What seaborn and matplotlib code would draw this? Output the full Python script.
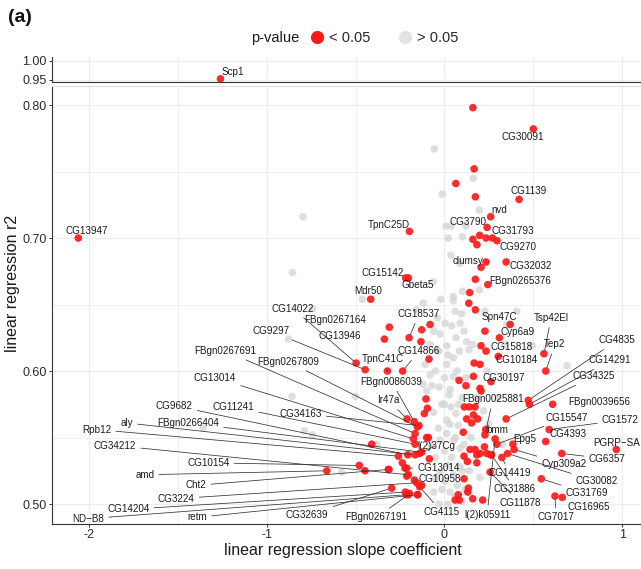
import matplotlib
matplotlib.use("Agg")
import matplotlib.pyplot as plt
import seaborn as sns
import pandas as pd
from matplotlib.lines import Line2D

sns.set_theme(style="white")
plt.rcParams["font.family"] = ["Liberation Sans", "DejaVu Sans"]
plt.rcParams["axes.unicode_minus"] = False

# ---- labelled genes (all p < 0.05) ----
gene_names = [
    "Scp1", "CG13947", "CG30091", "CG1139", "nvd", "CG3790", "CG31793", "CG9270",
    "TpnC25D", "clumsy", "CG32032", "FBgn0265376", "CG15142", "Gbeta5", "Mdr50",
    "FBgn0267164", "CG13946", "CG18537", "CG14866", "TpnC41C", "CG14022", "CG9297",
    "FBgn0086039", "Ir47a", "FBgn0267691", "FBgn0267809", "CG13014", "CG9682",
    "CG11241", "CG34163", "aly", "FBgn0266404", "Rpb12", "CG34212", "CG10154", "amd",
    "Cht2", "CG3224", "CG14204", "ND\u2212B8", "retm", "CG32639", "FBgn0267191",
    "l(2)37Cg", "CG13014", "CG10958", "CG4115", "Spn47C", "Cyp6a9", "CG15818",
    "CG10184", "CG30197", "Tsp42El", "Tep2", "CG4835", "CG14291", "CG34325",
    "FBgn0025881", "FBgn0039656", "bmm", "CG15547", "l(2)k05911", "CG1572", "CG4393",
    "PGRP\u2212SA", "CG6357", "Epg5", "Cyp309a2", "CG30082", "CG14419", "CG31769",
    "CG7017", "CG16965", "CG31886", "CG11878",
]
gene_slope = [
    -1.26, -2.06, 0.50, 0.42, 0.26, 0.24, 0.27, 0.296,
    -0.197, 0.234, 0.347, 0.244, -0.218, -0.203, -0.415,
    -0.31, -0.338, -0.199, -0.235, -0.321, -0.497, -0.446,
    -0.17, -0.21, -0.165, -0.152, -0.175, -0.206,
    -0.165, -0.143, -0.165, -0.128, -0.259, -0.203, -0.479, -0.662,
    -0.316, -0.156, -0.22, -0.214, -0.152, -0.297, -0.203,
    -0.14, -0.212, -0.169, -0.14, 0.37, 0.309, 0.234,
    0.303, 0.20, 0.56, 0.57, 0.472, 0.478, 0.347,
    0.228, 0.609, 0.232, 0.295, 0.285, 0.589, 0.57,
    0.967, 0.66, 0.385, 0.392, 0.355, 0.323, 0.545,
    0.622, 0.663, 0.265, 0.257,
]
gene_r2 = [
    0.953, 0.700, 0.782, 0.729, 0.716, 0.708, 0.700, 0.698,
    0.705, 0.682, 0.682, 0.665, 0.670, 0.670, 0.654,
    0.633, 0.624, 0.625, 0.600, 0.600, 0.606, 0.601,
    0.562, 0.564, 0.553, 0.558, 0.549, 0.537,
    0.545, 0.559, 0.537, 0.539, 0.536, 0.522, 0.529, 0.525,
    0.526, 0.516, 0.509, 0.507, 0.507, 0.512, 0.507,
    0.538, 0.527, 0.518, 0.513, 0.635, 0.625, 0.615,
    0.611, 0.587, 0.613, 0.600, 0.578, 0.575, 0.564,
    0.552, 0.575, 0.556, 0.545, 0.549, 0.556, 0.547,
    0.541, 0.538, 0.545, 0.541, 0.538, 0.535, 0.519,
    0.506, 0.505, 0.537, 0.524,
]

# label placement (data coordinates) and whether a leader segment is drawn
label_x = [
    -1.19, -2.012, 0.438, 0.472, 0.309, 0.131, 0.384, 0.412,
    -0.31, 0.135, 0.486, 0.425, -0.347, -0.153, -0.428,
    -0.616, -0.588, -0.143, -0.143, -0.347, -0.852, -0.978,
    -0.297, -0.316, -1.231, -0.878, -1.291, -1.52,
    -1.188, -0.809, -1.788, -1.441, -1.957, -1.854, -1.329, -1.685,
    -1.398, -1.51, -1.779, -2.004, -1.391, -0.772, -0.381,
    -0.047, -0.034, -0.029, -0.014, 0.307, 0.409, 0.375,
    0.409, 0.335, 0.60, 0.622, 0.971, 0.932, 0.842,
    0.273, 0.87, 0.296, 0.69, 0.24, 0.99, 0.695,
    0.968, 0.915, 0.454, 0.673, 0.858, 0.369, 0.802,
    0.628, 0.814, 0.397, 0.425,
]
label_y = [
    0.971, 0.705, 0.776, 0.735, 0.721, 0.712, 0.705, 0.693,
    0.710, 0.683, 0.679, 0.668, 0.674, 0.665, 0.660,
    0.638, 0.626, 0.643, 0.615, 0.609, 0.647, 0.630,
    0.592, 0.578, 0.615, 0.607, 0.595, 0.574,
    0.573, 0.568, 0.561, 0.561, 0.556, 0.544, 0.531, 0.522,
    0.514, 0.504, 0.496, 0.489, 0.490, 0.492, 0.490,
    0.544, 0.527, 0.519, 0.494, 0.641, 0.629, 0.618,
    0.608, 0.595, 0.640, 0.620, 0.623, 0.608, 0.596,
    0.579, 0.577, 0.556, 0.565, 0.492, 0.563, 0.553,
    0.546, 0.534, 0.549, 0.530, 0.517, 0.523, 0.508,
    0.490, 0.498, 0.511, 0.501,
]
label_leader = [
    0, 0, 0, 0, 0, 0, 0, 0,
    0, 0, 0, 0, 0, 0, 0,
    0, 0, 1, 1, 1, 1, 1,
    1, 1, 1, 1, 1, 1,
    1, 1, 1, 1, 1, 1, 1, 1,
    1, 1, 1, 1, 1, 1, 1,
    1, 1, 1, 1, 0, 0, 0,
    0, 0, 1, 1, 1, 1, 1,
    1, 0, 0, 1, 1, 1, 1,
    0, 1, 0, 1, 1, 1, 1,
    1, 0, 1, 1,
]

# ---- other significant genes (unlabelled) ----
sig_slope = [
    0.16, 0.167, 0.064, 0.174, 0.234, 0.198, 0.16, 0.183, 0.206, 0.174,
    0.142, 0.137, 0.174, -0.128, -0.081, -0.132, -0.087, 0.228, 0.206, 0.167,
    0.20, 0.082, 0.163, 0.121, 0.262, 0.206, -0.104, -0.113, -0.096, -0.10,
    -0.409, -0.447, -0.237, -0.312, -0.222, -0.212, -0.128, -0.197, -0.15, -0.085,
    -0.09, 0.112, 0.14, 0.172, 0.163, 0.187, 0.125, 0.106, 0.225, 0.144,
    0.172, 0.20, 0.182, 0.238, 0.11, 0.129, 0.182, 0.11, 0.135, 0.131,
    0.159, 0.078, 0.084, 0.215, 0.153, 0.06, 0.26,
]
sig_r2 = [
    0.798, 0.752, 0.741, 0.731, 0.700, 0.702, 0.699, 0.695, 0.678, 0.669,
    0.659, 0.651, 0.646, 0.631, 0.635, 0.622, 0.609, 0.630, 0.619, 0.606,
    0.605, 0.593, 0.596, 0.589, 0.592, 0.585, 0.579, 0.568, 0.572, 0.550,
    0.545, 0.525, 0.531, 0.526, 0.527, 0.521, 0.514, 0.508, 0.507, 0.534,
    0.550, 0.573, 0.573, 0.573, 0.567, 0.564, 0.564, 0.554, 0.543, 0.541,
    0.541, 0.538, 0.537, 0.538, 0.536, 0.532, 0.531, 0.519, 0.512, 0.509,
    0.504, 0.507, 0.503, 0.503, 0.561, 0.503, 0.537,
]

# ---- non-significant genes ----
ns_slope = [
    -0.795, -0.855, -0.74, -0.462, -0.876, -0.857, -1.357, -0.788, -0.743, -0.578,
    -0.50, -0.38, -0.057, 0.163, -0.012, 0.197, 0.009, 0.037, 0.121, 0.022,
    0.101, 0.037, 0.088, -0.062, 0.101, 0.197, 0.05, 0.05, -0.021, -0.119,
    0.06, 0.097, 0.228, 0.407, 0.003, 0.041, -0.025, 0.088, 0.065, 0.013,
    0.084, -0.043, 0.013, -0.109, 0.125, 0.138, 0.05, 0.031, -0.029, -0.071,
    0.35, -0.156, 0.026, -0.015, 0.037, 0.065, -0.062, 0.013, 0.078, -0.034,
    0.013, 0.054, -0.025, 0.088, 0.041, 0.022, 0.088, -0.025, 0.05, 0.003,
    0.073, 0.031, -0.015, 0.06, 0.116, -0.06, 0.69, 0.34, 0.495, 0.328,
    -0.05, -0.08, 0.0, -0.04, 0.02, 0.07, -0.10, 0.10, 0.0, -0.05,
    0.06, 0.11, -0.05, 0.02, -0.03, 0.10, 0.10,
    -0.08, 0.03, 0.12, 0.18, 0.22, -0.12, 0.15, 0.20, 0.25, -0.08,
    0.14, 0.0, 0.08, -0.03, 0.05, 0.11, -0.06, 0.16, 0.24, 0.30,
]
ns_r2 = [
    0.716, 0.674, 0.647, 0.654, 0.624, 0.581, 0.557, 0.555, 0.552, 0.524,
    0.581, 0.545, 0.767, 0.745, 0.733, 0.721, 0.709, 0.709, 0.709, 0.700,
    0.701, 0.687, 0.681, 0.667, 0.660, 0.661, 0.656, 0.653, 0.654, 0.651,
    0.645, 0.643, 0.645, 0.645, 0.636, 0.634, 0.628, 0.636, 0.625, 0.619,
    0.615, 0.616, 0.605, 0.605, 0.622, 0.616, 0.596, 0.586, 0.588, 0.589,
    0.635, 0.646, 0.582, 0.575, 0.573, 0.568, 0.569, 0.563, 0.559, 0.557,
    0.553, 0.548, 0.548, 0.542, 0.535, 0.529, 0.528, 0.524, 0.522, 0.517,
    0.514, 0.509, 0.511, 0.506, 0.511, 0.509, 0.604, 0.620, 0.619, 0.545,
    0.600, 0.620, 0.595, 0.640, 0.612, 0.600, 0.585, 0.580, 0.540, 0.535,
    0.550, 0.545, 0.520, 0.500, 0.500, 0.502, 0.525,
    0.597, 0.560, 0.595, 0.580, 0.570, 0.590, 0.550, 0.520, 0.560, 0.545,
    0.525, 0.575, 0.575, 0.615, 0.610, 0.630, 0.630, 0.620, 0.600, 0.580,
]

ns_df = pd.DataFrame({"slope": ns_slope, "r2": ns_r2, "pval": "> 0.05"})
sig_df = pd.DataFrame({"slope": sig_slope + gene_slope,
                       "r2": sig_r2 + gene_r2, "pval": "< 0.05"})

RED = "#FF1A1A"
GREY = "#D4D4D4"
palette = {"< 0.05": RED, "> 0.05": GREY}
AXCOL = "#333333"
GRIDCOL = "#EDEDED"

W, H = 641, 569
fig = plt.figure(figsize=(W / 100, H / 100), dpi=100)
ax = fig.add_axes([52 / W, 1 - 524 / H, 1 - 52 / W, (524 - 86) / H])
ax_top = fig.add_axes([52 / W, 1 - 81.5 / H, 1 - 52 / W, (81.5 - 57) / H])

for a in (ax, ax_top):
    sns.scatterplot(data=ns_df, x="slope", y="r2", hue="pval", palette=palette,
                    s=30, linewidth=0, alpha=0.75, legend=False, ax=a, zorder=3)
    sns.scatterplot(data=sig_df, x="slope", y="r2", hue="pval", palette=palette,
                    s=30, linewidth=0, alpha=0.92, legend=False, ax=a, zorder=4)
    a.set_xlim(-2.208, 1.106)
    a.set_xticks([-2, -1, 0, 1])
    a.set_xticks([-1.5, -0.5, 0.5], minor=True)
    a.grid(True, which="major", color=GRIDCOL, lw=0.9, zorder=0)
    a.grid(True, which="minor", color=GRIDCOL, lw=0.6, zorder=0)
    a.set_axisbelow(True)
    a.set_xlabel("")
    a.set_ylabel("")
    for side in ("left", "bottom"):
        a.spines[side].set_color(AXCOL)
        a.spines[side].set_linewidth(0.8)
    a.spines["right"].set_visible(False)
    a.tick_params(axis="both", which="major", direction="out", length=2.5,
                  width=0.7, color=AXCOL, labelsize=9, labelcolor="#2B2B2B",
                  pad=1.2, left=True, bottom=True)
    a.tick_params(axis="both", which="minor", length=0)

ax.set_ylim(0.485, 0.8143)
ax.set_yticks([0.5, 0.6, 0.7, 0.8])
ax.set_yticklabels(["0.50", "0.60", "0.70", "0.80"])
ax.set_yticks([0.55, 0.65, 0.75], minor=True)
ax.spines["top"].set_color("#DDDDDD")
ax.spines["top"].set_linewidth(0.8)

ax_top.set_ylim(0.946, 1.0105)
ax_top.set_yticks([0.95, 1.00])
ax_top.set_yticklabels(["0.95", "1.00"])
ax_top.spines["top"].set_visible(False)
ax_top.tick_params(axis="x", which="major", length=0, labelbottom=False)

# gene labels
for name, gx, gy, lx, ly, lead in zip(gene_names, gene_slope, gene_r2,
                                      label_x, label_y, label_leader):
    target = ax_top if gy > 0.9 else ax
    props = None
    if lead:
        props = dict(arrowstyle="-", color="#333333", lw=0.55,
                     shrinkA=1, shrinkB=2.5)
    target.annotate(name, xy=(gx, gy), xytext=(lx, ly), textcoords="data",
                    ha="center", va="center", fontsize=7.1, color="#1A1A1A",
                    arrowprops=props, annotation_clip=False, zorder=6)

# axis titles
fig.text(343 / W, 1 - 550 / H, "linear regression slope coefficient",
         ha="center", va="center", fontsize=11.5, color="#1A1A1A")
fig.text(13 / W, 1 - 283 / H, "linear regression r2", rotation=90,
         ha="center", va="center", fontsize=11.5, color="#1A1A1A")

# panel tag
fig.text(8 / W, 1 - 18 / H, "(a)", ha="left", va="center", fontsize=14,
         fontweight="bold", color="#111111")

# legend
fig.text(275 / W, 1 - 38 / H, "p-value", ha="center", va="center",
         fontsize=10.5, color="#1A1A1A")
handles = [Line2D([], [], marker="o", ls="", markersize=9.5, color=RED,
                  markeredgewidth=0),
           Line2D([], [], marker="o", ls="", markersize=9.5, color="#E3E3E3",
                  markeredgewidth=0)]
fig.legend(handles, ["< 0.05", "> 0.05"], ncol=2, loc="center",
           bbox_to_anchor=(384 / W, 1 - 38 / H), frameon=False,
           fontsize=10.5, handletextpad=0.3, columnspacing=1.9,
           handlelength=1.0, borderpad=0)

fig.savefig("out.png", dpi=100)
